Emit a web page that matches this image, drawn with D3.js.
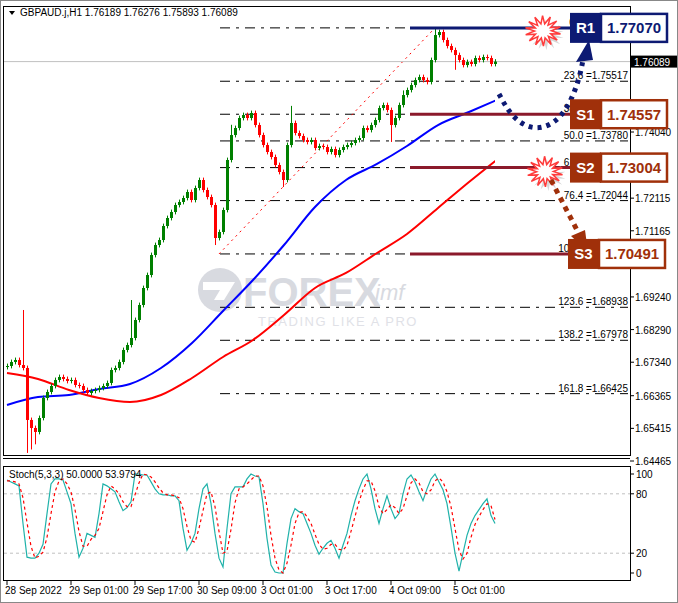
<!DOCTYPE html>
<html><head><meta charset="utf-8">
<script src="https://cdn.jsdelivr.net/npm/d3@7"></script>
<style>body{margin:0;background:#fff}svg{display:block;font-family:"Liberation Sans",Arial,sans-serif}</style>
</head><body><svg id="c" width="678" height="603"></svg>
<script>
const closes=[1.67230,1.67347,1.67405,1.67259,1.67172,1.65659,1.65426,1.65310,1.65717,1.66299,1.66474,1.66648,1.66823,1.66910,1.66852,1.66794,1.66823,1.66677,1.66648,1.66532,1.66445,1.66503,1.66532,1.66590,1.66648,1.66736,1.67114,1.67172,1.67347,1.67696,1.67841,1.68045,1.68569,1.69005,1.69500,1.69878,1.70460,1.70751,1.70897,1.71304,1.71537,1.71712,1.71915,1.72003,1.72119,1.72294,1.72061,1.72410,1.72643,1.72352,1.72148,1.71915,1.70955,1.71130,1.71770,1.73225,1.73952,1.74156,1.74447,1.74534,1.74447,1.74593,1.74243,1.73952,1.73661,1.73458,1.73312,1.73079,1.72876,1.72643,1.73661,1.74302,1.74011,1.73923,1.73807,1.73749,1.73807,1.73574,1.73632,1.73603,1.73458,1.73545,1.73370,1.73516,1.73603,1.73661,1.73720,1.73807,1.73865,1.74156,1.74098,1.74243,1.74389,1.74738,1.74825,1.74680,1.74243,1.74447,1.74825,1.75116,1.75262,1.75407,1.75553,1.75640,1.75553,1.75495,1.76135,1.76862,1.76950,1.76717,1.76542,1.76426,1.76280,1.76135,1.75989,1.76077,1.76019,1.76193,1.76135,1.76222,1.76193,1.76019,1.76089];
const firstOpen=1.67200;
const wickDefault=0.0007;
const highs={4:1.6886,31:1.6915,71:1.7480,107:1.77070,56:1.7425,99:1.7525};
const lows={5:1.6470,6:1.6480,7:1.6495,52:1.7075,69:1.7244,96:1.7375,112:1.7585};
const maIdx=[0,7.75,15.5,23,30.75,38.5,46.25,54,61.5,69.25,77,84.75,92.5,100,107.75,115.5,123];
const blueMA=[1.66095,1.66328,1.66386,1.66561,1.66707,1.67172,1.67900,1.68831,1.69733,1.70751,1.71857,1.72643,1.73109,1.73632,1.74243,1.74622,1.75000];
const redMA=[1.67027,1.66852,1.66532,1.66299,1.66183,1.66386,1.66881,1.67492,1.67987,1.68714,1.69501,1.69937,1.70519,1.71072,1.71828,1.72585,1.73283];
const stochK=[94,92,90,88,50,16,15,15,20,29,60,90,95,95,94,82,70,40,16,25,40,38,36,60,90,88,85,82,72,63,66,72,100,100,99,99,92,85,80,79,79,78,78,73,45,23,30,40,65,85,90,70,40,15,6,45,80,87,87,87,95,100,98,97,70,35,8,1,0,0,30,55,65,62,60,50,40,28,19,25,30,33,25,15,28,40,58,73,85,95,100,85,65,50,65,78,65,55,60,80,95,99,92,82,73,85,95,100,92,84,70,46,20,2,20,38,50,58,64,70,75,58,50];
const stochD=[93,93,92,90,76,51,27,15,17,21,36,60,82,93,95,90,82,64,42,27,27,34,38,45,62,79,88,85,80,72,67,67,79,91,100,99,97,92,86,81,79,79,78,76,65,47,33,31,45,63,80,82,67,42,20,22,44,71,85,87,90,94,98,98,88,67,38,15,3,0,10,28,50,61,62,57,50,39,29,24,25,29,29,24,23,28,42,57,72,84,93,93,83,67,60,64,69,66,60,65,78,91,95,91,82,80,84,93,96,92,82,67,45,23,14,20,36,49,57,64,70,68,54];
const priceTicks=[1.64465,1.65415,1.66365,1.67340,1.68290,1.69240,1.71165,1.72115,1.74040];
const timeLabels=["28 Sep 2022","29 Sep 01:00","29 Sep 17:00","30 Sep 09:00","3 Oct 01:00","3 Oct 17:00","4 Oct 09:00","5 Oct 01:00"];
const timeIdx=[0,16,32,48,64,80,96,112];
const fibPct=[0,23.6,38.2,50,61.8,76.4,100,123.6,138.2,161.8];
const fibVal=[1.77070,1.75517,1.74557,1.73780,1.73004,1.72044,1.70491,1.68938,1.67978,1.66425];
const levelNames=["R1","S1","S2","S3"];
const levelValues=[1.77070,1.74557,1.73004,1.70491];
const lastPrice=1.76089;

const svg=d3.select("#c");
const x=d3.scaleLinear().domain([0,122]).range([7,495]);
const y=d3.scaleLinear().domain([1.64465,1.74040]).range([461,132]);
const ys=d3.scaleLinear().domain([0,100]).range([573,474]);
const R=630;
svg.append("rect").attr("x",0.5).attr("y",0.5).attr("width",677).attr("height",602).attr("fill","#fff").attr("stroke","#888");
svg.append("rect").attr("x",3.5).attr("y",6.5).attr("width",R-3).attr("height",449).attr("fill","none").attr("stroke","#000");
svg.append("rect").attr("x",3.5).attr("y",466.5).attr("width",R-3).attr("height",114).attr("fill","none").attr("stroke","#000");
svg.append("line").attr("x1",3).attr("x2",R).attr("y1",458.5).attr("y2",458.5).attr("stroke","#000");
const main=svg.append("g");
svg.append("clipPath").attr("id","cp").append("rect").attr("x",4).attr("y",7).attr("width",R-4).attr("height",448);
svg.append("clipPath").attr("id","cp2").append("rect").attr("x",4).attr("y",7).attr("width",x(122)-4).attr("height",448);
const wm=main.append("g").attr("opacity",0.55);
wm.append("circle").attr("cx",220).attr("cy",290).attr("r",22).attr("fill","#b9bcc8");
wm.append("path").attr("d","M203,282 L235,282 L224,300 L214,300 L220,290 L203,290Z").attr("fill","#fff");
wm.append("text").attr("x",243).attr("y",306).attr("font-size",40).attr("font-weight","bold").attr("fill","#b9bcc8").text("FOREX");
wm.append("text").attr("x",375).attr("y",300).attr("font-size",22).attr("font-style","italic").attr("fill","#b9bcc8").text("imf");
wm.append("text").attr("x",258).attr("y",326).attr("font-size",13).attr("letter-spacing",1.5).attr("fill","#c8cad4").text("TRADING LIKE A PRO");
priceTicks.forEach(p=>{const yy=y(p);svg.append("line").attr("x1",R).attr("x2",R+4).attr("y1",yy).attr("y2",yy).attr("stroke","#000");
svg.append("text").attr("x",R+5).attr("y",yy+4).attr("font-size",10).text(p.toFixed(5));});
const g=main.append("g").attr("clip-path","url(#cp)");
fibVal.forEach((v,i)=>{g.append("line").attr("x1",220).attr("x2",628).attr("y1",y(v)).attr("y2",y(v)).attr("stroke","#000").attr("stroke-dasharray","10,6,3,6");
g.append("text").attr("x",628).attr("y",y(v)-2).attr("text-anchor","end").attr("font-size",10).text(fibPct[i].toFixed(1)+" ="+v.toFixed(5));});
g.append("line").attr("x1",x(53)).attr("y1",y(fibVal[6])).attr("x2",x(107)).attr("y2",y(fibVal[0])).attr("stroke","#ff0000").attr("stroke-dasharray","2,4");
g.append("line").attr("x1",4).attr("x2",R).attr("y1",y(lastPrice)).attr("y2",y(lastPrice)).attr("stroke","#c0c0c0");
const line=d3.line().x((d,i)=>x(maIdx[i])).y(d=>y(d)).curve(d3.curveMonotoneX);
g.append("path").attr("d",line(blueMA)).attr("fill","none").attr("stroke","#0000ff").attr("stroke-width",2).attr("clip-path","url(#cp2)");
g.append("path").attr("d",line(redMA)).attr("fill","none").attr("stroke","#ff0000").attr("stroke-width",2).attr("clip-path","url(#cp2)");
closes.forEach((c,i)=>{const o=i?closes[i-1]:firstOpen;const up=c>=o;const col=up?"#008000":"#ff0000";
const h=highs[i]!==undefined?highs[i]:Math.max(o,c)+wickDefault;const l=lows[i]!==undefined?lows[i]:Math.min(o,c)-wickDefault;
const xx=Math.round(x(i))+0.5;
g.append("line").attr("x1",xx).attr("x2",xx).attr("y1",y(h)).attr("y2",y(l)).attr("stroke",col);
g.append("rect").attr("x",xx-1.5).attr("width",3).attr("y",y(Math.max(o,c))).attr("height",Math.max(1,Math.abs(y(o)-y(c)))).attr("fill",col);});
const lvlCol=["#0d1a73","#8b1a2b","#8b1a2b","#8b1a2b"];
const boxCol=["#0d1a73","#a0300a","#a0300a","#a0300a"];
levelValues.forEach((v,i)=>{const yy=y(v);
svg.append("line").attr("x1",410).attr("x2",570).attr("y1",yy).attr("y2",yy).attr("stroke",lvlCol[i]).attr("stroke-width",3);});
function burst(cx,cy){const pts=[];for(let k=0;k<28;k++){const r=k%2?8:17;const a=k*Math.PI/14+0.2;pts.push([cx+r*Math.cos(a)*1.05,cy+r*Math.sin(a)*0.9]);}
svg.append("polygon").attr("points",pts.map(p=>(p[0]+3)+","+(p[1]+4)).join(" ")).attr("fill","#bbb").attr("opacity",0.6);
svg.append("polygon").attr("points",pts.join(" ")).attr("fill","#fff").attr("stroke","#ff3b3b").attr("stroke-width",1.5);}
burst(543,y(levelValues[0])+3);burst(545,y(levelValues[2])+4);
svg.append("path").attr("d",d3.line().curve(d3.curveBasis)([[499,94],[512,118],[535,132],[562,120],[578,85],[583,60]])).attr("fill","none").attr("stroke","#0d1a73").attr("stroke-width",5).attr("stroke-dasharray","4,5");
svg.append("polygon").attr("points","576,62 593,60 589,40").attr("fill","#0d1a73");
svg.append("line").attr("x1",551).attr("y1",180).attr("x2",578).attr("y2",232).attr("stroke","#a0300a").attr("stroke-width",5).attr("stroke-dasharray","5,5");
svg.append("polygon").attr("points","571,236 585,230 588,252").attr("fill","#a0300a");
levelValues.forEach((v,i)=>{const yy=y(v);const bx=i==3?568:570;
svg.append("rect").attr("x",bx).attr("y",yy-15).attr("width",31).attr("height",30).attr("fill",boxCol[i]);
svg.append("rect").attr("x",bx+31).attr("y",yy-14).attr("width",66).attr("height",28).attr("fill","#fff").attr("stroke",boxCol[i]).attr("stroke-width",2.5);
svg.append("text").attr("x",bx+15.5).attr("y",yy+5.5).attr("text-anchor","middle").attr("font-size",15).attr("font-weight","bold").attr("fill","#fff").text(levelNames[i]);
svg.append("text").attr("x",bx+64).attr("y",yy+5.5).attr("text-anchor","middle").attr("font-size",15).attr("font-weight","bold").attr("fill",boxCol[i]).text(v.toFixed(5));});
svg.append("rect").attr("x",R+1).attr("y",y(lastPrice)-6).attr("width",46).attr("height",12).attr("fill","#000");
svg.append("text").attr("x",R+4).attr("y",y(lastPrice)+4).attr("font-size",10).attr("fill","#fff").text(lastPrice.toFixed(5));
svg.append("path").attr("d","M9,11 L15,11 L12,15Z").attr("fill","#000");
svg.append("text").attr("x",20).attr("y",16).attr("font-size",10).text("GBPAUD.j,H1  1.76189 1.76276 1.75893 1.76089");
[80,20].forEach(v=>svg.append("line").attr("x1",4).attr("x2",R).attr("y1",ys(v)).attr("y2",ys(v)).attr("stroke","#c0c0c0").attr("stroke-dasharray","3,3"));
[100,80,20,0].forEach(v=>{svg.append("line").attr("x1",R).attr("x2",R+4).attr("y1",ys(v)).attr("y2",ys(v)).attr("stroke","#000");
svg.append("text").attr("x",R+6).attr("y",ys(v)+4).attr("font-size",10).text(v);});
const sl=d3.line().x((d,i)=>x(i)).y(d=>ys(d));
svg.append("path").attr("d",sl(stochK)).attr("fill","none").attr("stroke","#20b2aa").attr("stroke-width",1.2);
svg.append("path").attr("d",sl(stochD)).attr("fill","none").attr("stroke","#ff0000").attr("stroke-dasharray","3,3").attr("stroke-width",1.2);
svg.append("text").attr("x",9).attr("y",478).attr("font-size",10).text("Stoch(5,3,3) 50.0000 53.9794");
timeIdx.forEach((t,i)=>{const xx=x(t);svg.append("line").attr("x1",xx).attr("x2",xx).attr("y1",581).attr("y2",585).attr("stroke","#000");
svg.append("text").attr("x",xx-2).attr("y",594).attr("font-size",10).text(timeLabels[i]);});
</script></body></html>
